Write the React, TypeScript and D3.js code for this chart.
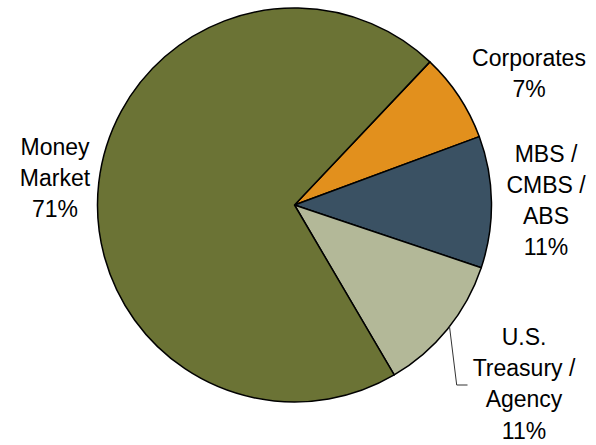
import React from 'react';
import * as d3 from 'd3';

// slice values (percent of portfolio)
const categories = ['Corporates', 'MBS / CMBS / ABS', 'U.S. Treasury / Agency', 'Money Market'];
const values = [7.3, 10.8, 11.4, 70.5];
const colors = ['#E2901D', '#3A5163', '#B3B898', '#6B7335'];

// label text lines (last line is the percentage, added below)
const labelLines = [['Corporates'], ['MBS /', 'CMBS /', 'ABS'], ['U.S.', 'Treasury /', 'Agency'], ['Money', 'Market']];

const width = 596;
const height = 445;
const cx = 294.5;
const cy = 205;
const radius = 197;
const lineH = 31.2;
const fontSize = 23;

// label anchors (center x, first baseline)
const labelPos = [
  { x: 529, y: 65.7 },
  { x: 546, y: 161.7 },
  { x: 524, y: 345 },
  { x: 55, y: 155 },
];

const App: React.FC = () => {
  const pie = d3.pie<number>()
    .sort(null)
    .startAngle((43.4 * Math.PI) / 180)
    .endAngle((43.4 * Math.PI) / 180 + 2 * Math.PI);
  const arcs = pie(values);
  const arc = d3.arc<d3.PieArcDatum<number>>().innerRadius(0).outerRadius(radius);
  const total = d3.sum(values);

  // leader line for the treasury slice
  const t = arcs[2];
  const mid = (t.startAngle + t.endAngle) / 2 - 0.017;
  const lx0 = Math.sin(mid) * radius;
  const ly0 = -Math.cos(mid) * radius;
  const leader = d3.line()([
    [cx + lx0, cy + ly0],
    [456.7, 385],
    [467.5, 385],
  ]);

  return (
    <svg width={width} height={height} style={{ position: 'absolute', left: 0, top: 0, background: '#fff' }}
      fontFamily="'Liberation Sans', Arial, sans-serif">
      <g transform={`translate(${cx},${cy})`}>
        {arcs.map((a, i) => (
          <path key={categories[i]} d={arc(a) || ''} fill={colors[i]} stroke="#000" strokeWidth={1.5} strokeLinejoin="round" />
        ))}
      </g>
      <path d={leader || ''} fill="none" stroke="#333" strokeWidth={1} />
      {labelLines.map((lines, i) => {
        const all = [...lines, `${Math.round((values[i] / total) * 100)}%`];
        return (
          <text key={categories[i]} textAnchor="middle" fontSize={fontSize} fill="#000">
            {all.map((s, j) => (
              <tspan key={j} x={labelPos[i].x} y={labelPos[i].y + j * lineH}>{s}</tspan>
            ))}
          </text>
        );
      })}
    </svg>
  );
};

export default App;
